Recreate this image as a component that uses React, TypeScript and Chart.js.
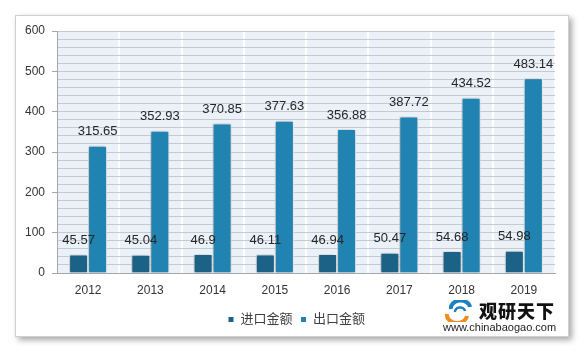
import React, { useEffect, useRef } from "react";
import { Chart, registerables } from "chart.js";

Chart.register(...registerables);

const years = ["2012", "2013", "2014", "2015", "2016", "2017", "2018", "2019"];
const importValues = [45.57, 45.04, 46.9, 46.11, 46.94, 50.47, 54.68, 54.98];
const exportValues = [315.65, 352.93, 370.85, 377.63, 356.88, 387.72, 434.52, 483.14];
const seriesNames = ["进口金额", "出口金额"];

const FONT = "'Liberation Sans', 'Noto Sans CJK SC', sans-serif";

const plotBg = {
  id: "plotBg",
  beforeDraw(chart: any) {
    const { ctx, chartArea } = chart;
    ctx.save();
    ctx.fillStyle = "#EAF1F8";
    ctx.fillRect(chartArea.left, chartArea.top, chartArea.right - chartArea.left, chartArea.bottom - chartArea.top);
    ctx.restore();
  },
};

const legendShift = {
  id: "legendShift",
  afterLayout(chart: any) {
    if (chart.legend) {
      chart.legend.left += 9;
      chart.legend.right += 9;
    }
  },
};

const barShadow = {
  id: "barShadow",
  beforeDatasetsDraw(chart: any) {
    const ctx = chart.ctx;
    ctx.save();
    ctx.shadowColor = "rgba(0,0,0,0.35)";
    ctx.shadowBlur = 4;
    ctx.shadowOffsetX = -1;
    ctx.shadowOffsetY = 0;
  },
  afterDatasetsDraw(chart: any) {
    chart.ctx.restore();
  },
};

const valueLabels = {
  id: "valueLabels",
  afterDatasetsDraw(chart: any) {
    const ctx = chart.ctx;
    ctx.save();
    ctx.font = `13px ${FONT}`;
    ctx.fillStyle = "#262626";
    ctx.textAlign = "center";
    ctx.textBaseline = "middle";
    chart.data.datasets.forEach((ds: any, i: number) => {
      const meta = chart.getDatasetMeta(i);
      meta.data.forEach((el: any, j: number) => {
        ctx.fillText(String(ds.data[j]), el.x, el.y - 14);
      });
    });
    ctx.restore();
  },
};

export default function App() {
  const ref = useRef<HTMLCanvasElement>(null);
  useEffect(() => {
    if (!ref.current) return;
    const chart = new Chart(ref.current, {
      type: "bar",
      data: {
        labels: years,
        datasets: [
          {
            label: seriesNames[0],
            data: importValues,
            backgroundColor: "#1C6287",
            borderColor: "#FFFFFF",
            borderWidth: 1,
            categoryPercentage: 0.61,
            barPercentage: 1,
          },
          {
            label: seriesNames[1],
            data: exportValues,
            backgroundColor: "#2083B1",
            borderColor: "#FFFFFF",
            borderWidth: 1,
            categoryPercentage: 0.61,
            barPercentage: 1,
          },
        ],
      },
      options: {
        responsive: false,
        animation: false,
        layout: { padding: { left: 20, right: 33, top: 31, bottom: 18 } },
        plugins: {
          legend: {
            position: "bottom",
            labels: {
              boxWidth: 6,
              boxHeight: 6,
              padding: 8,
              color: "#404040",
              font: { family: FONT, size: 13 },
            },
          },
          tooltip: { enabled: false },
        },
        scales: {
          x: {
            grid: { color: "#FFFFFF", lineWidth: 2, drawTicks: false, offset: true },
            border: { color: "#A6A6A6", width: 1 },
            ticks: { color: "#333333", font: { family: FONT, size: 12 }, padding: 10 },
            afterFit(scale: any) {
              scale.height = 32;
            },
          },
          y: {
            min: 0,
            max: 600,
            grid: {
              color: "#C6CACF",
              lineWidth: 1,
              tickLength: 5,
              tickColor: (c: any) => (c.tick && c.tick.value % 100 === 0 ? "#A6A6A6" : "rgba(0,0,0,0)"),
            },
            border: { color: "#A6A6A6", width: 1 },
            ticks: {
              stepSize: 20,
              autoSkip: false,
              padding: 7,
              color: "#333333",
              font: { family: FONT, size: 12 },
              callback: (v: any) => (Number(v) % 100 === 0 ? String(v) : ""),
            },
            afterFit(scale: any) {
              scale.width = 37;
            },
          },
        },
      },
      plugins: [plotBg, legendShift, barShadow, valueLabels],
    });
    return () => chart.destroy();
  }, []);

  return (
    <div style={{ position: "relative", width: 588, height: 354, margin: -8, background: "#FFFFFF" }}>
      <div
        style={{
          position: "absolute",
          left: 15,
          top: 15,
          width: 552,
          height: 320,
          background: "#FFFFFF",
          border: "1px solid #D0D0D0",
          boxShadow: "3px 3px 6px rgba(0,0,0,0.35)",
        }}
      />
      <canvas ref={ref} width={588} height={354} style={{ position: "absolute", left: 0, top: 0 }} />
      <div style={{ position: "absolute", left: 443, top: 300, width: 30, height: 22 }}>
        <svg width="30" height="22" viewBox="0 0 30 22">
          <path d="M4 14 A10 8 0 0 0 24 16" stroke="#F08C1E" strokeWidth="4" fill="none" />
          <path d="M8 9 A9 7 0 0 1 27 7" stroke="#1E7FC1" strokeWidth="4" fill="none" />
          <path d="M12 12 A5 4 0 0 1 22 11" stroke="#1E7FC1" strokeWidth="2.5" fill="none" />
        </svg>
      </div>
      <div
        style={{
          position: "absolute",
          left: 479,
          top: 299,
          fontFamily: "'Noto Sans CJK SC', sans-serif",
          fontWeight: 900,
          fontSize: 18,
          letterSpacing: 1,
          lineHeight: "22px",
          color: "#111",
        }}
      >
        观研天下
      </div>
      <div
        style={{
          position: "absolute",
          left: 443,
          top: 321,
          fontFamily: "'Liberation Sans', sans-serif",
          fontSize: 11,
          lineHeight: "12px",
          color: "#222",
        }}
      >
        www.chinabaogao.com
      </div>
    </div>
  );
}
